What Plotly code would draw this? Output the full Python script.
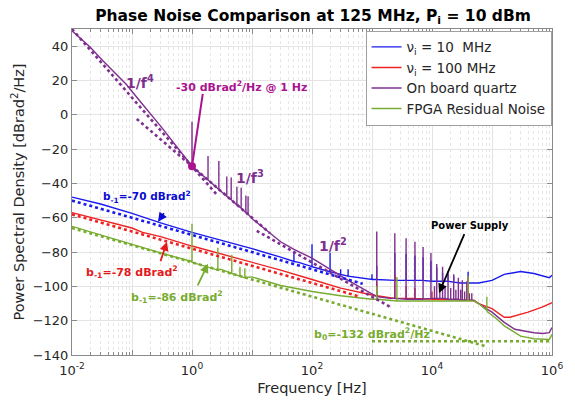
import plotly.graph_objects as go

# ---------------- data ----------------
# baselines: frequency [Hz] and PSD [dBrad^2/Hz]
blue_f = [0.01, 0.03, 0.1, 0.3, 1, 3, 5, 10, 30, 60, 100, 300, 1000, 3000, 1e4, 3e4, 6e4,
          1e5, 1.6e5, 2.5e5, 3e5, 5e5, 7e5, 9e5, 1e6]
blue_v = [-48, -52, -57.5, -63, -68.5, -73, -75, -78, -83, -86, -88.5, -93, -96, -96.5, -97,
          -98, -98, -96.5, -93, -91.5, -91.3, -92.5, -94, -95, -93.5]

red_f = [0.01, 0.03, 0.1, 0.15, 0.3, 1, 3, 10, 30, 100, 300, 1000, 3000, 1e4, 5e4, 6e4, 1e5,
         1.3e5, 1.6e5, 2e5, 4e5, 7e5, 1e6]
red_v = [-57, -61.5, -66, -68.5, -71, -76.5, -81, -86, -90.5, -96, -101, -105, -107, -107.5,
         -108, -110, -113, -116, -118, -118, -115, -112, -109.5]

purple_f = [0.01, 0.02, 0.033, 0.08, 0.135, 0.3, 1, 2, 5, 10, 20, 30, 50, 100, 400, 900, 2000,
            5000, 1e4, 2e4, 4e4, 5e4, 6e4, 8e4, 1e5, 1.6e5, 2.4e5, 5e5, 7e5, 9e5, 1e6]
purple_v = [49, 39.5, 31.4, 17.8, 8, -6.6, -30, -39, -51, -60.5, -69, -74, -78.5, -83.5, -96.5,
            -103.5, -107, -107.5, -107, -107.5, -108, -108.5, -110, -113, -115, -121, -125, -127,
            -127.5, -127, -124]

green_f = [0.01, 0.03, 0.1, 0.3, 1, 3, 10, 30, 100, 300, 1000, 3000, 1e4, 5e4, 6e4, 8.5e4,
           1.2e5, 1.6e5, 2.5e5, 3e5, 5e5, 9e5, 1e6]
green_v = [-65, -70, -75.5, -80.5, -85.5, -90, -94.5, -99.5, -103, -105.5, -107.5, -108.5,
           -108.5, -108.5, -110, -115, -119, -123, -127, -129, -130.5, -131, -128]

# spurs: (frequency, foot, top)
blue_spurs = [(50, -85.5, -80), (100, -88.5, -75.5), (200, -91.5, -80.5), (300, -93, -90),
              (400, -94, -90), (1000, -96, -93), (1200, -96, -88), (2400, -96.5, -80.5),
              (3700, -96.5, -81), (5200, -96.5, -82), (7100, -96.5, -83), (9600, -97, -85),
              (1.2e4, -97, -89), (1.5e4, -97, -92), (1.85e4, -97, -93), (2.3e4, -97.5, -94),
              (4e4, -98, -91.5)]
red_spurs = [(1200, -105.5, -97), (2400, -107, -93), (3700, -107, -100), (5200, -107, -101),
             (1e4, -107.5, -103), (4e4, -108, -95)]
purple_spurs = [(1.0, -30, -4), (1.85, -38, -24), (2.8, -43.5, -27), (3.8, -47.5, -36),
                (4.5, -49.5, -36.5), (5.6, -52.5, -42), (6.6, -54.5, -42.5), (7.9, -57, -47),
                (8.6, -58, -47.5),
                (1200, -106, -68), (2400, -107, -69), (3700, -107.5, -72), (5200, -107.5, -74),
                (7100, -107.5, -77), (9600, -107, -80.5), (1.1e4, -107, -100),
                (1.2e4, -107, -87), (1.35e4, -107, -101), (1.5e4, -107, -88.5),
                (1.65e4, -107, -100), (1.85e4, -107.5, -91), (2.05e4, -107.5, -101),
                (2.3e4, -107.5, -93), (2.5e4, -107.5, -102), (2.75e4, -107.5, -95),
                (3.0e4, -108, -102), (3.2e4, -108, -96.5), (3.5e4, -108, -103),
                (3.8e4, -108, -97), (4.2e4, -108, -104), (4.6e4, -108, -104)]
green_spurs = [(1.0, -86, -63.5), (2.7, -90.5, -77.5), (4.6, -92.5, -81.5), (6.3, -94, -88.5),
               (7.6, -95, -89.5), (1200, -107.5, -100), (2600, -108.5, -94.5),
               (4e4, -108.5, -94), (8.2e4, -114, -106)]

# fitted power laws (end points)
fit_b1_70_f, fit_b1_70_v = [0.01, 700], [-50, -98.5]
fit_b1_78_f, fit_b1_78_v = [0.01, 630], [-58, -106]
fit_b1_86_f, fit_b1_86_v = [0.01, 8e4], [-66, -135]
fit_b0_f, fit_b0_v = [1000, 1e6], [-132, -132]
fit_f4_f, fit_f4_v = [0.01, 2.6], [50, -46.6]
fit_f3_f, fit_f3_v = [0.12, 20], [-2.4, -69]
fit_f2_f, fit_f2_v = [12, 2000], [-67.6, -112]
ref_point_f, ref_point_v = [1], [-30]

x_tickvals = [1e-2, 1e-1, 1e0, 1e1, 1e2, 1e3, 1e4, 1e5, 1e6]
x_ticktext = ["10<sup>-2</sup>", "", "10<sup>0</sup>", "", "10<sup>2</sup>", "",
              "10<sup>4</sup>", "", "10<sup>6</sup>"]
y_tickvals = [-140, -120, -100, -80, -60, -40, -20, 0, 20, 40]

# ---------------- styling ----------------
BLUE = "#1a1aee"
RED = "#ee2222"
PURPLE = "#7E2F8E"
GREEN = "#77AC30"
MAGENTA = "#aa1490"
FONT = "DejaVu Sans"


def build(base_f, base_v, spurs):
    ev = [(f, v, None) for f, v in zip(base_f, base_v)] + list(spurs)
    ev.sort(key=lambda e: e[0])
    xs, ys = [], []
    for f, b, t in ev:
        if t is None:
            xs.append(f)
            ys.append(b)
        else:
            xs += [f, f, f]
            ys += [b, t, b]
    return xs, ys


fig = go.Figure()
series = [
    ("ν<sub>i</sub> = 10  MHz", blue_f, blue_v, blue_spurs, BLUE),
    ("ν<sub>i</sub> = 100 MHz", red_f, red_v, red_spurs, RED),
    ("On board quartz", purple_f, purple_v, purple_spurs, PURPLE),
    ("FPGA Residual Noise", green_f, green_v, green_spurs, GREEN),
]
for name, f, v, sp, col in series:
    xs, ys = build(f, v, sp)
    fig.add_trace(go.Scatter(x=xs, y=ys, mode="lines", name=name,
                             line=dict(color=col, width=1.4)))

fits = [
    (fit_b1_70_f, fit_b1_70_v, BLUE),
    (fit_b1_78_f, fit_b1_78_v, RED),
    (fit_b1_86_f, fit_b1_86_v, GREEN),
    (fit_b0_f, fit_b0_v, GREEN),
    (fit_f4_f, fit_f4_v, PURPLE),
    (fit_f3_f, fit_f3_v, PURPLE),
    (fit_f2_f, fit_f2_v, PURPLE),
]
for f, v, col in fits:
    fig.add_trace(go.Scatter(x=f, y=v, mode="lines", showlegend=False,
                             line=dict(color=col, width=2.6, dash="dot")))

fig.add_trace(go.Scatter(x=ref_point_f, y=ref_point_v, mode="markers", showlegend=False,
                         marker=dict(color=MAGENTA, size=8)))


def label(x, y, text, color, size=11):
    fig.add_annotation(x=x, y=y, xref="x", yref="y", text="<b>" + text + "</b>",
                       showarrow=False, font=dict(family=FONT, size=size, color=color))


def arrow(x0, y0, x1, y1, color, head=2, width=1.8):
    fig.add_annotation(x=x1, y=y1, ax=x0, ay=y0, xref="x", yref="y", axref="x", ayref="y",
                       text="", showarrow=True, arrowhead=head, arrowsize=1,
                       arrowwidth=width, arrowcolor=color)


label(-0.87, 19, "1/f<sup>4</sup>", PURPLE, 14)
label(0.82, 16.6, "-30 dBrad<sup>2</sup>/Hz @ 1 Hz", MAGENTA, 11)
arrow(0.183, 13.1, 0.0, -30, MAGENTA, head=0, width=2)
label(0.97, -36, "1/f<sup>3</sup>", PURPLE, 14)
label(2.35, -75.7, "1/f<sup>2</sup>", PURPLE, 14)
label(-0.75, -48.2, "b<sub>-1</sub>=-70 dBrad<sup>2</sup>", "#0b0bd0", 10.5)
arrow(-0.45, -56.5, -0.567, -62.3, "#0b0bd0")
label(-1.0, -91.5, "b<sub>-1</sub>=-78 dBrad<sup>2</sup>", "#e31a1c", 11)
arrow(-0.533, -86.2, -0.417, -74, "#e31a1c")
label(-0.25, -106, "b<sub>-1</sub>=-86 dBrad<sup>2</sup>", GREEN, 11)
arrow(0.083, -100.3, 0.267, -86.8, GREEN)
label(4.63, -64.6, "Power Supply", "black", 10)
arrow(4.55, -68.7, 4.117, -103.8, "black")
label(3.0, -128, "b<sub>0</sub>=-132 dBrad<sup>2</sup>/Hz", GREEN, 11)

minor_vals = [m * 10 ** e for e in range(-2, 6) for m in range(2, 10)]
AX = "#8a8a8a"
GRID = "#e4e4e4"

# the page body adds an 8 px offset, so the figure is 8 px smaller than the window
fig.update_layout(
    width=567, height=395,
    margin=dict(l=64, r=23, t=21, b=48, autoexpand=False),
    paper_bgcolor="white", plot_bgcolor="white",
    font=dict(family=FONT, size=13, color="#262626"),
    title=dict(text="<b>Phase Noise Comparison at 125 MHz, P<sub>i</sub> = 10 dBm</b>",
               x=0.538, xanchor="center", y=0.981, yanchor="middle",
               font=dict(family=FONT, size=15.5, color="black")),
    showlegend=True,
    legend=dict(x=0.999, xanchor="right", y=0.995, yanchor="top",
                bgcolor="white", bordercolor="#a0a0a0", borderwidth=1,
                font=dict(family=FONT, size=13.5, color="#262626"),
                tracegroupgap=0, itemwidth=30),
    xaxis=dict(type="log", range=[-2, 6], tickmode="array", tickvals=x_tickvals,
               ticktext=x_ticktext, ticks="inside", ticklen=5, tickcolor=AX,
               showline=True, linecolor=AX, linewidth=1, mirror="ticks", automargin=False,
               showgrid=True, gridcolor=GRID, gridwidth=1, zeroline=False,
               ticklabelstandoff=3,
               tickfont=dict(family=FONT, size=13, color="#262626"),
               title=dict(text="Frequency [Hz]", standoff=6,
                          font=dict(family=FONT, size=14.5, color="#262626")),
               minor=dict(tickmode="array", tickvals=minor_vals, ticks="inside", ticklen=3,
                          tickcolor=AX, showgrid=True, gridcolor="#e6e6e6",
                          griddash="dot", gridwidth=1)),
    yaxis=dict(range=[-140, 50], tickmode="array", tickvals=y_tickvals, ticks="inside",
               ticklen=5, tickcolor=AX, showline=True, linecolor=AX, linewidth=1,
               mirror="ticks", showgrid=True, gridcolor=GRID, gridwidth=1, zeroline=False,
               automargin=False,
               tickfont=dict(family=FONT, size=13, color="#262626"),
               title=dict(text="Power Spectral Density [dBrad<sup>2</sup>/Hz]", standoff=4,
                          font=dict(family=FONT, size=14.5, color="#262626"))),
)

fig.write_html("out.html")
